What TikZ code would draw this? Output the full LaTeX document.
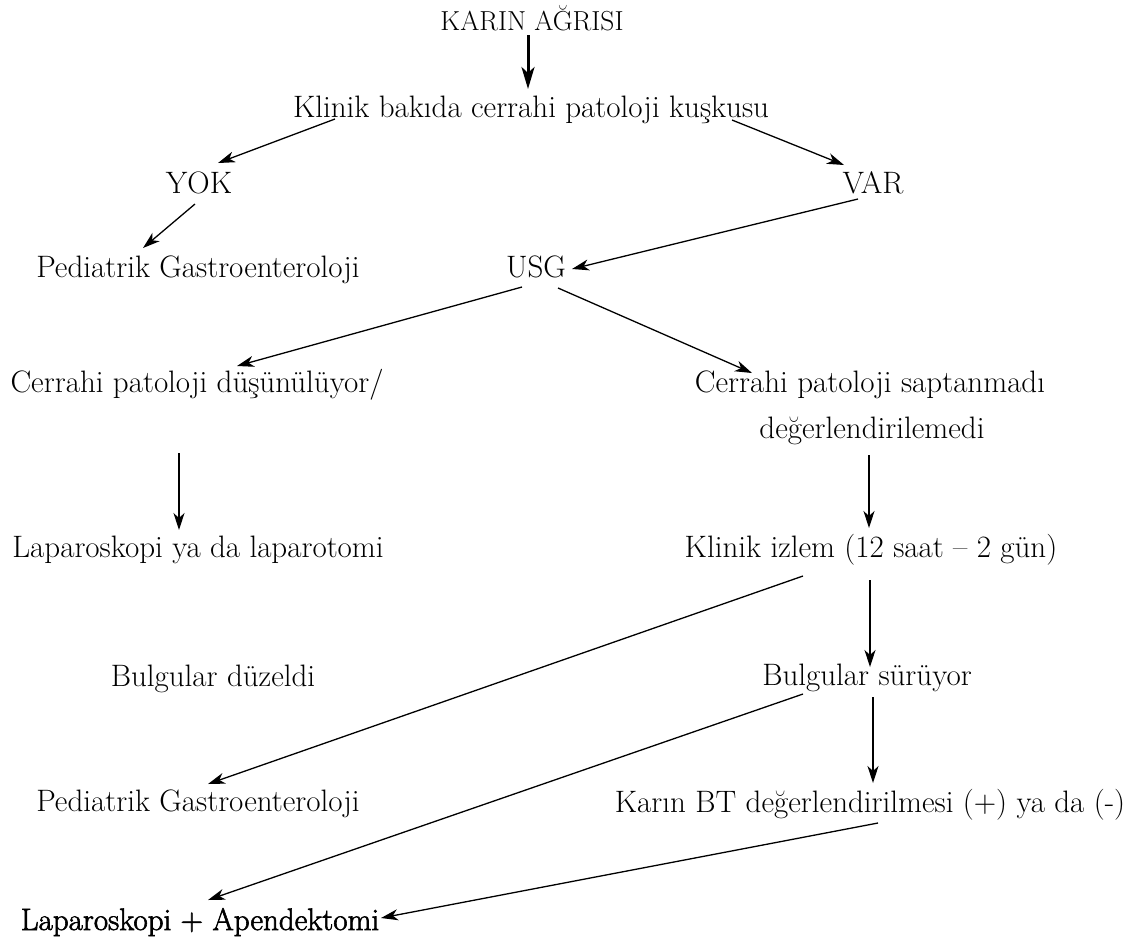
\documentclass[tikz,border=0pt]{standalone}
\usepackage{fontspec}
\usetikzlibrary{arrows.meta}
\newcommand{\strokedtext}[1]{\special{pdf:literal direct q 2 Tr 0.6 w}#1\special{pdf:literal direct Q}}
\begin{document}
\begin{tikzpicture}[x=1pt,y=-1pt,
  lbl/.style={anchor=base,inner sep=0pt,font=\fontsize{31}{37}\selectfont},
  arr/.style={line width=1.3pt,-{Stealth[length=17pt,width=11pt,inset=5pt]}},
  thickarr/.style={line width=3pt,-{Stealth[length=22pt,width=13pt,inset=6pt]}}]
\useasboundingbox[fill=white] (0,0) rectangle (1135,943);
\node[lbl,font=\fontsize{27.5}{33}\selectfont] (ka) at (532,30) {KARIN AĞRISI};
\node[lbl] (kl) at (531,117) {Klinik bakıda cerrahi patoloji kuşkusu};
\node[lbl] (yok) at (199,193) {YOK};
\node[lbl] (var) at (873,193) {VAR};
\node[lbl] (ped1) at (198,277) {Pediatrik Gastroenteroloji};
\node[lbl] (usg) at (536,277) {USG};
\node[lbl] (cpd) at (197,392) {Cerrahi patoloji düşünülüyor/};
\node[lbl] (cps) at (870,392) {Cerrahi patoloji saptanmadı};
\node[lbl] (deg) at (872,438) {değerlendirilemedi};
\node[lbl] (lap) at (198,557) {Laparoskopi ya da laparotomi};
\node[lbl] (kli) at (871,557) {Klinik izlem (12 saat – 2 gün)};
\node[lbl] (bd) at (213,686) {Bulgular düzeldi};
\node[lbl] (bs) at (867,685) {Bulgular sürüyor};
\node[lbl] (ped2) at (198,811) {Pediatrik Gastroenteroloji};
\node[lbl] (bt) at (870,812) {Karın BT değerlendirilmesi (+) ya da (-)};
\node[lbl] (la) at (200,930) {\strokedtext{Laparoskopi + Apendektomi}};
\draw[thickarr] ([shift={(-4,5)}]ka.base) -- ([shift={(-3,-28)}]kl.base);
\draw[arr] ([shift={(-196,2)}]kl.base) -- ([shift={(19,-30)}]yok.base);
\draw[arr] ([shift={(201,3)}]kl.base) -- ([shift={(-29,-28)}]var.base);
\draw[arr] ([shift={(-4,11)}]yok.base) -- ([shift={(-55,-29)}]ped1.base);
\draw[arr] ([shift={(-15,6)}]var.base) -- ([shift={(36,-8)}]usg.base);
\draw[arr] ([shift={(-14,10)}]usg.base) -- ([shift={(40,-26)}]cpd.base);
\draw[arr] ([shift={(22,11)}]usg.base) -- ([shift={(-118,-19)}]cps.base);
\draw[arr] ([shift={(-18,61)}]cpd.base) -- ([shift={(-19,-27)}]lap.base);
\draw[arr] ([shift={(-3,17)}]deg.base) -- ([shift={(-2,-29)}]kli.base);
\draw[arr] ([shift={(-68,19)}]kli.base) -- ([shift={(10,-27)}]ped2.base);
\draw[arr] ([shift={(-1,23)}]kli.base) -- ([shift={(3,-18)}]bs.base);
\draw[arr] ([shift={(-64,9)}]bs.base) -- ([shift={(8,-30)}]la.base);
\draw[arr] ([shift={(6,12)}]bs.base) -- ([shift={(3,-29)}]bt.base);
\draw[arr] ([shift={(8,11)}]bt.base) -- ([shift={(181,-12)}]la.base);
\end{tikzpicture}
\end{document}
